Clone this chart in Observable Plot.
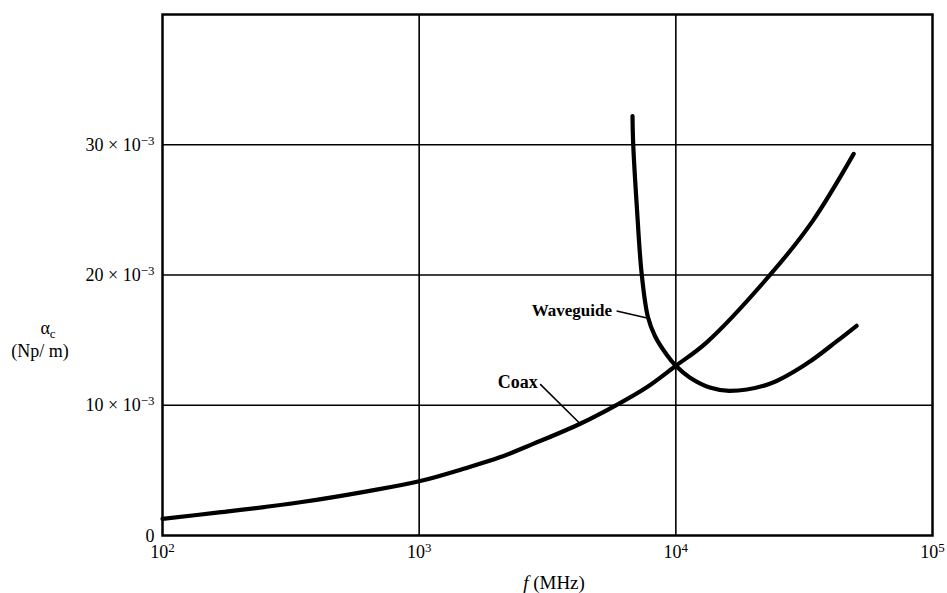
<!DOCTYPE html>
<html><head><meta charset="utf-8">
<script src="https://cdn.jsdelivr.net/npm/d3@7"></script>
<script src="https://cdn.jsdelivr.net/npm/@observablehq/plot@0.6"></script>
<style>
body{margin:0;background:#fff}
svg{font-family:"Liberation Serif","Times New Roman",serif}
</style>
</head><body><div id="chart"></div>
<script>
// Frequencies in MHz, attenuation in Np/m
const coaxF = [100, 163, 344, 626, 1000, 1529, 2061, 2780, 4220, 5960, 7680, 10000, 13160, 23500, 34000, 49300];
const coaxA = [1.28e-3, 1.75e-3, 2.55e-3, 3.39e-3, 4.16e-3, 5.19e-3, 6.0e-3, 7.03e-3, 8.56e-3, 10.09e-3, 11.36e-3, 13.03e-3, 14.81e-3, 20.1e-3, 24.1e-3, 29.3e-3];
const wgF = [6780, 6820, 7060, 7360, 7780, 8300, 9200, 10000, 11330, 13560, 16220, 23230, 32400, 42300, 50600];
const wgA = [32.2e-3, 30.1e-3, 25.0e-3, 20.1e-3, 16.8e-3, 15.3e-3, 13.9e-3, 13.03e-3, 12.13e-3, 11.36e-3, 11.11e-3, 11.65e-3, 13.2e-3, 14.9e-3, 16.1e-3];
const xTicks = [100, 1000, 10000, 100000];
const yTicks = [0, 0.01, 0.02, 0.03];
const seriesLabels = ["Waveguide", "Coax"];

const coax = coaxF.map((f, i) => ({f, a: coaxA[i]}));
const wg = wgF.map((f, i) => ({f, a: wgA[i]}));

const chart = Plot.plot({
  width: 947, height: 593,
  marginLeft: 162, marginRight: 15, marginTop: 14, marginBottom: 58,
  style: {fontFamily: '"Liberation Serif", "Times New Roman", serif', fontSize: "18px", color: "#000", background: "#fff"},
  x: {type: "log", domain: [100, 100000]},
  y: {domain: [0, 0.04]},
  marks: [
    Plot.ruleX([1000, 10000], {stroke: "#000", strokeWidth: 1.6}),
    Plot.ruleY([0.01, 0.02, 0.03], {stroke: "#000", strokeWidth: 1.6}),
    Plot.frame({stroke: "#000", strokeWidth: 2.5}),
    Plot.line(coax, {x: "f", y: "a", stroke: "#000", strokeWidth: 4.2, curve: "catmull-rom"}),
    Plot.line(wg, {x: "f", y: "a", stroke: "#000", strokeWidth: 4.2, curve: "catmull-rom"}),
    Plot.link([0], {x1: () => 5880, y1: () => 0.01724, x2: () => 7800, y2: () => 0.01668, stroke: "#000", strokeWidth: 1.5}),
    Plot.link([0], {x1: () => 2960, y1: () => 0.01162, x2: () => 4230, y2: () => 0.0086, stroke: "#000", strokeWidth: 1.5}),
    Plot.text([seriesLabels[0]], {x: () => 5640, y: () => 0.01724, text: d => d, textAnchor: "end", fontWeight: "bold", fontSize: 17}),
    Plot.text([seriesLabels[1]], {x: () => 2900, y: () => 0.0118, text: d => d, textAnchor: "end", fontWeight: "bold", fontSize: 18, letterSpacing: "2px"}),
    Plot.axisX({ticks: xTicks, tickSize: 0, tickPadding: 10, tickFormat: d => "10|" + Math.round(Math.log10(d)), label: null}),
    Plot.axisY({ticks: yTicks, tickSize: 0, tickPadding: 8, tickFormat: d => d === 0 ? "0" : Math.round(d * 1000) + " × 10|−3", label: null})
  ]
});

// tick label size and superscript exponents
d3.select(chart).selectAll("g[aria-label$='tick label']").attr("font-size", 18).style("font-size", "18px");
d3.select(chart).selectAll("g[aria-label$='tick label'] text").each(function() {
  const t = d3.select(this);
  const s = t.text();
  if (s === "0") { t.attr("dy", "0.05em"); return; }
  if (s.indexOf("|") < 0) return;
  const [base, exp] = s.split("|");
  t.text(null);
  t.append("tspan").text(base);
  t.append("tspan").attr("dy", "-0.45em").attr("font-size", "0.72em").text(exp);
});

const svg = d3.select(chart);
const yl = svg.append("text").attr("text-anchor", "middle").style("font-size", "18px").attr("fill", "#000");
yl.append("tspan").attr("x", 48).attr("y", 334).text("α");
yl.append("tspan").attr("dy", "0.3em").attr("font-size", "0.72em").text("c");
svg.append("text").attr("text-anchor", "middle").style("font-size", "18px").attr("x", 40).attr("y", 357).attr("fill", "#000").text("(Np/ m)");
const xl = svg.append("text").attr("text-anchor", "middle").style("font-size", "19px").attr("x", 554).attr("y", 589).attr("fill", "#000");
xl.append("tspan").attr("font-style", "italic").text("f");
xl.append("tspan").text(" (MHz)");

document.getElementById("chart").appendChild(chart);
</script>
</body></html>
